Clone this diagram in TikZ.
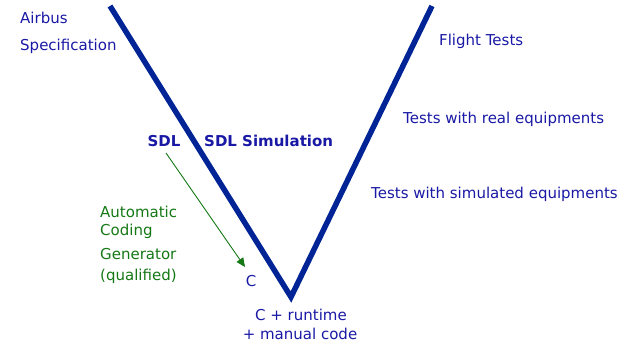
\documentclass[tikz,border=0pt]{standalone}
\usepackage{fontspec}
\setmainfont{DejaVu Sans}
\usetikzlibrary{arrows.meta}
\definecolor{vblue}{RGB}{0,35,150}
\definecolor{tblue}{RGB}{25,25,165}
\definecolor{tgreen}{RGB}{20,120,20}
\begin{document}
\begin{tikzpicture}[x=1pt,y=-1pt,
  lbl/.style={font=\fontsize{15}{17}\selectfont, text=tblue, inner sep=0pt},
  blbl/.style={lbl, font=\fontsize{15}{17}\selectfont\bfseries},
  glbl/.style={lbl, text=tgreen},
  vline/.style={draw=vblue, line width=5.5pt}]
\useasboundingbox (0,0) rectangle (624,343);
\coordinate (lt) at (110,6);
\coordinate (rt) at (432,6);
\coordinate (bot) at (291,297);
\draw[vline] (lt) -- (bot) -- (rt);
\node[lbl, anchor=west] (airbus) at (20,18) {Airbus};
\node[lbl, anchor=west] (spec) at (20,46) {Specification};
\node[blbl] (sdl) at (164,141) {SDL};
\node[blbl, anchor=west] (sdlsim) at (204,141) {SDL Simulation};
\node[lbl, anchor=west] (flight) at (439,41) {Flight Tests};
\node[lbl, anchor=west] (real) at (403,119) {Tests with real equipments};
\node[lbl, anchor=west] (sim) at (371,194) {Tests with simulated equipments};
\node[glbl, anchor=west] (auto) at (100,212) {Automatic};
\node[glbl, anchor=west] (coding) at (100,231) {Coding};
\node[glbl, anchor=west] (gen) at (100,254) {Generator};
\node[glbl, anchor=west] (qual) at (100,276) {(qualified)};
\node[lbl] (c) at (251,281) {C};
\node[lbl] (crt) at (301,315) {C + runtime};
\node[lbl] (man) at (300,334) {+ manual code};
\coordinate (as) at (166,153);
\coordinate (ae) at (245,267);
\draw[tgreen, line width=0.9pt, -{Triangle[length=9pt,width=8pt]}] (as) -- (ae);
\end{tikzpicture}
\end{document}
